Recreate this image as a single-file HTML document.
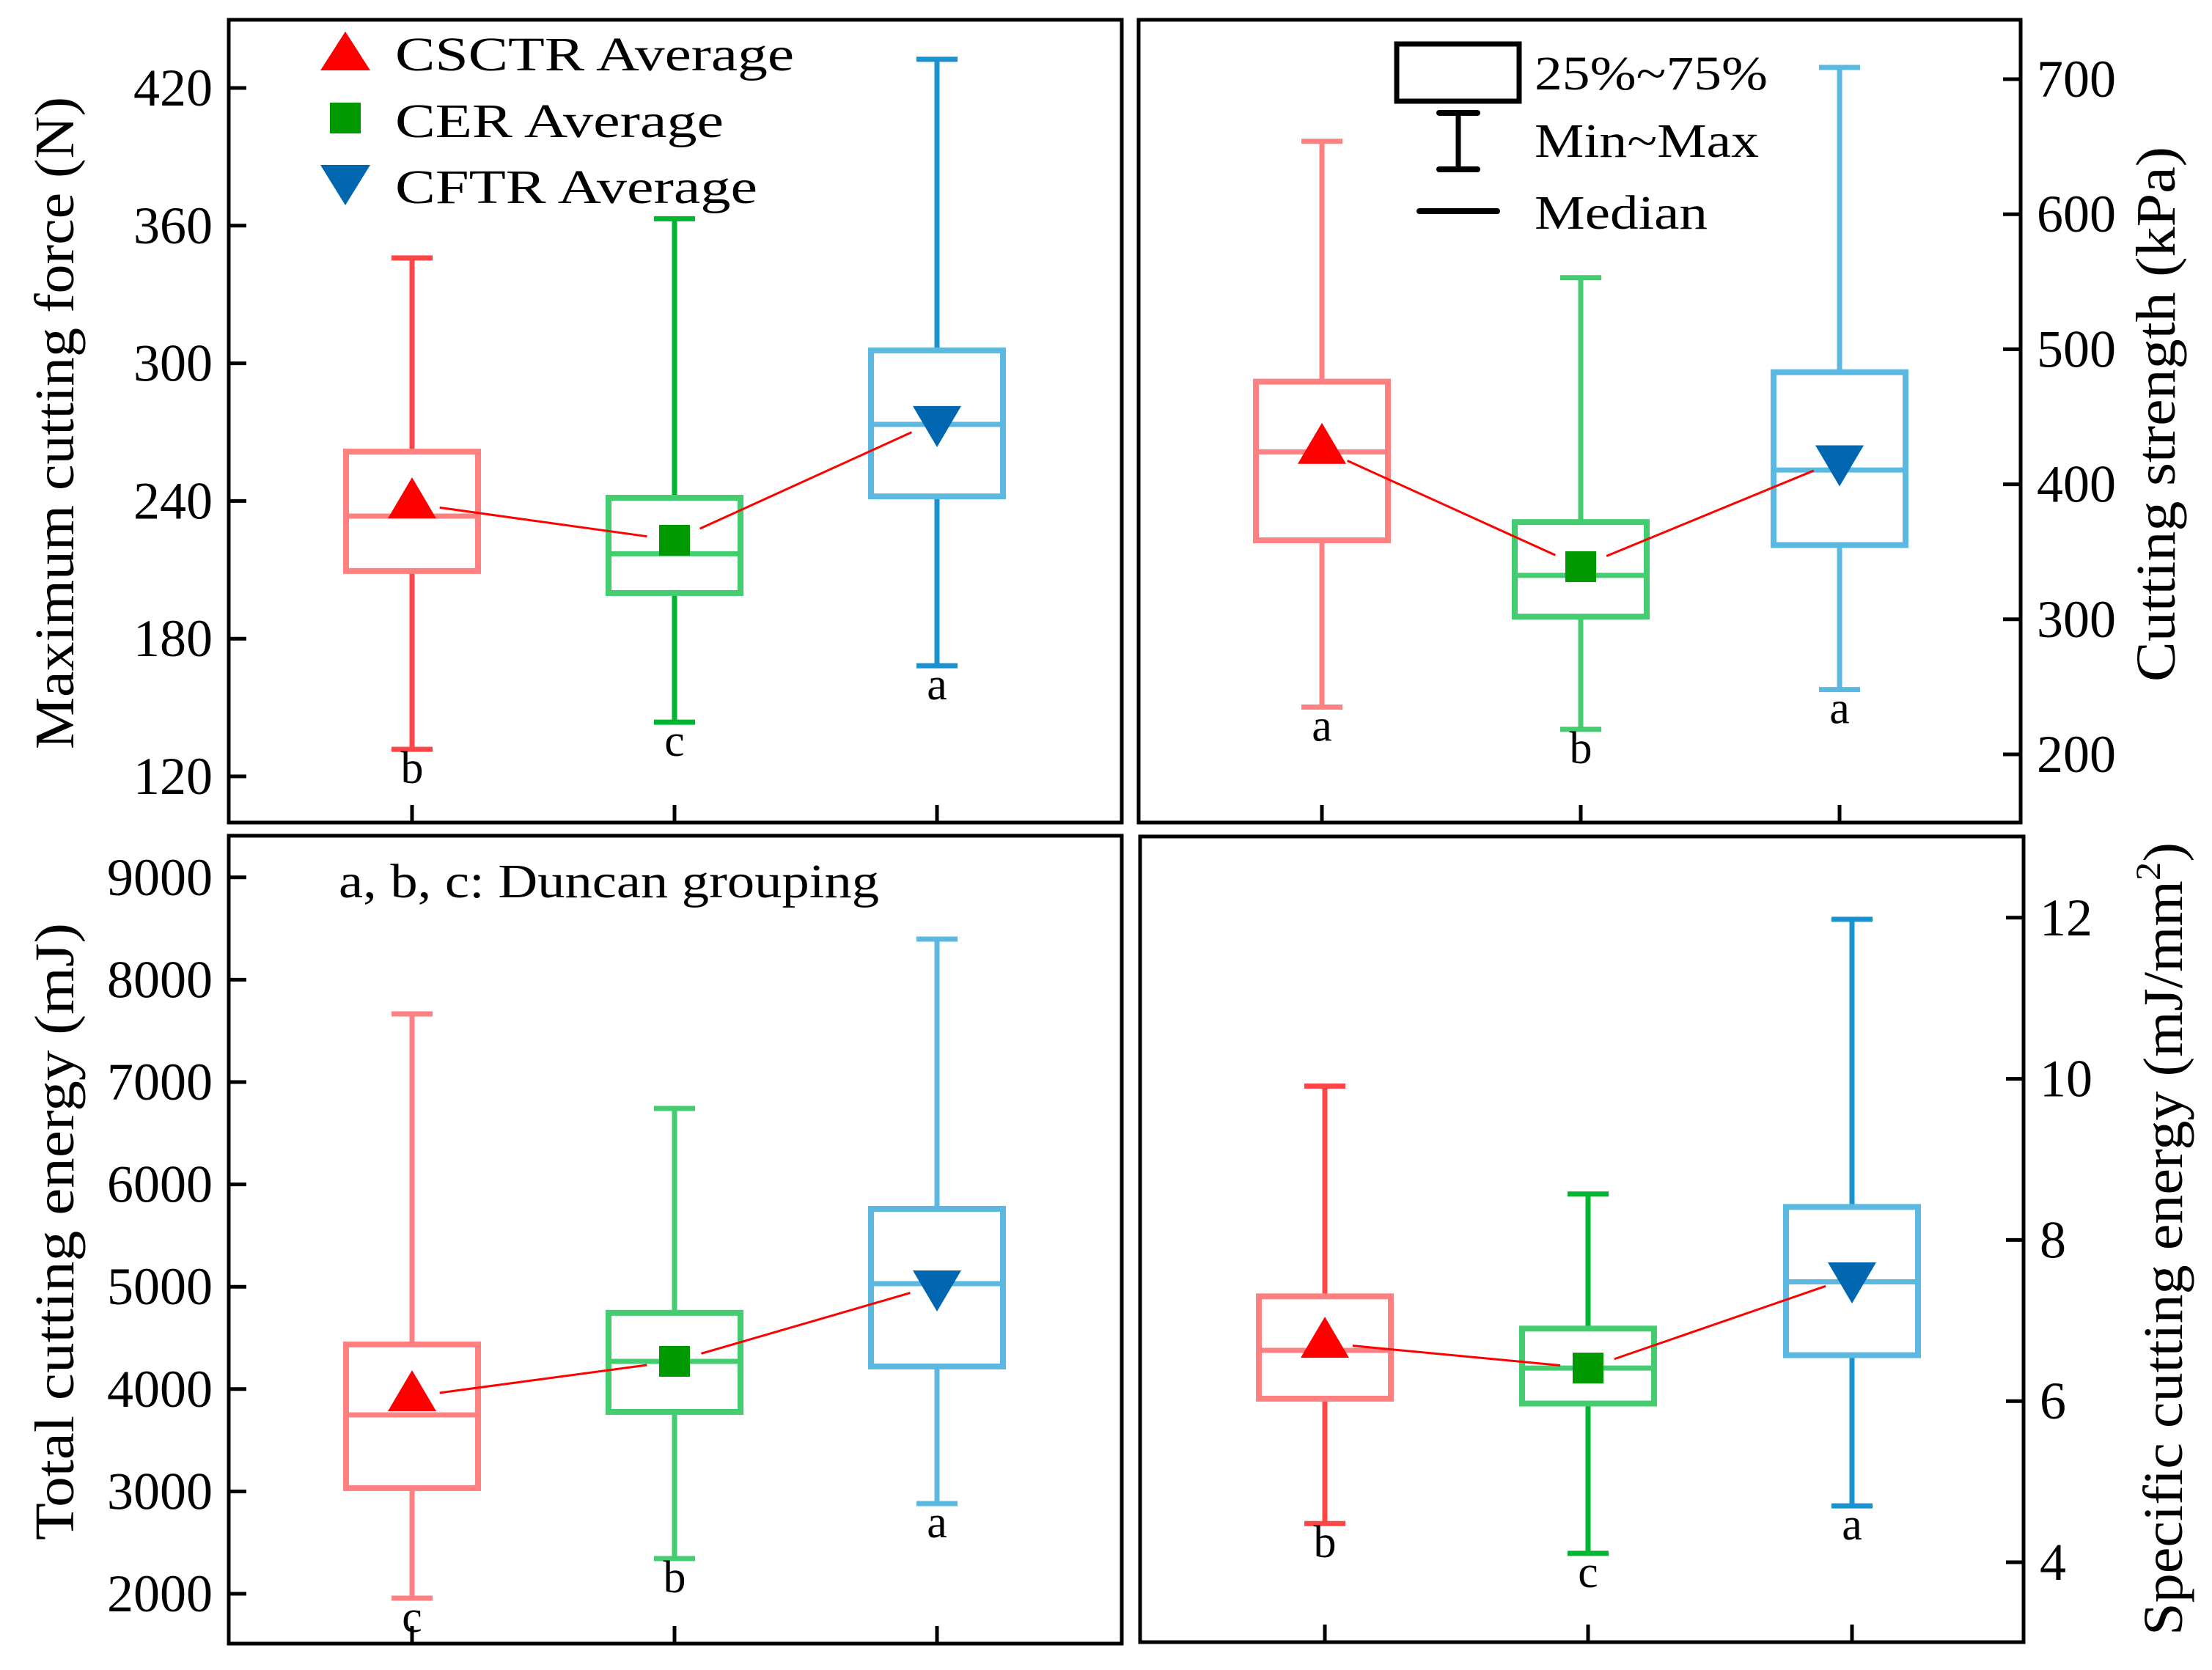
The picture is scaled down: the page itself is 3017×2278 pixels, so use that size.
<!DOCTYPE html>
<html><head><meta charset="utf-8"><style>
html,body{margin:0;padding:0;background:#fff;}
svg{display:block;font-family:"Liberation Serif",serif;}
</style></head><body>
<svg id="chart" width="3017" height="2278" viewBox="0 0 3017 2278" xmlns="http://www.w3.org/2000/svg">
<rect width="3017" height="2278" fill="#fff"/>
<g>
<polygon points="471,43 505,96 437,96" fill="#ff0000"/>
<text x="539" y="96" font-size="66" textLength="544" lengthAdjust="spacingAndGlyphs">CSCTR Average</text>
<rect x="450" y="140" width="42" height="42" fill="#009900"/>
<text x="539" y="187" font-size="66" textLength="448" lengthAdjust="spacingAndGlyphs">CER Average</text>
<polygon points="437,225 505,225 471,280" fill="#0066b0"/>
<text x="539" y="277" font-size="66" textLength="494" lengthAdjust="spacingAndGlyphs">CFTR Average</text>
</g>
<g>
<rect x="1905" y="60" width="167" height="78" fill="none" stroke="#000" stroke-width="7"/>
<text x="2093" y="122" font-size="66" textLength="318" lengthAdjust="spacingAndGlyphs">25%~75%</text>
<line x1="1989" y1="154" x2="1989" y2="231" stroke="#000" stroke-width="7"/>
<line x1="1963" y1="154" x2="2015" y2="154" stroke="#000" stroke-width="8" stroke-linecap="round"/>
<line x1="1963" y1="231" x2="2015" y2="231" stroke="#000" stroke-width="8" stroke-linecap="round"/>
<text x="2093" y="214" font-size="66" textLength="306" lengthAdjust="spacingAndGlyphs">Min~Max</text>
<line x1="1936" y1="288" x2="2042" y2="288" stroke="#000" stroke-width="8" stroke-linecap="round"/>
<text x="2093" y="312" font-size="66" textLength="236" lengthAdjust="spacingAndGlyphs">Median</text>
</g>
<text x="462" y="1224" font-size="66" textLength="737" lengthAdjust="spacingAndGlyphs">a, b, c: Duncan grouping</text>
<text transform="translate(100,577) rotate(-90)" text-anchor="middle" font-size="76" textLength="890" lengthAdjust="spacingAndGlyphs">Maximum cutting force (N)</text>
<text transform="translate(2966,565) rotate(-90)" text-anchor="middle" font-size="76" textLength="730" lengthAdjust="spacingAndGlyphs">Cutting strength (kPa)</text>
<text transform="translate(100,1680) rotate(-90)" text-anchor="middle" font-size="76" textLength="842" lengthAdjust="spacingAndGlyphs">Total cutting energy (mJ)</text>
<text transform="translate(2976,1690) rotate(-90)" text-anchor="middle" font-size="76" textLength="1082" lengthAdjust="spacingAndGlyphs">Specific cutting energy (mJ/mm<tspan dy="-30" font-size="48">2</tspan><tspan dy="30">)</tspan></text>
</svg>
<script>
const categories = ["CSCTR", "CER", "CFTR"];
const forceBoxes = [[131.8, 209.5, 233.4, 261.5, 345.9],[143.6, 199.9, 217, 241.4, 363],[168.2, 242, 273.4, 305.6, 432.5]];
const forceMeans = [238.8, 222.9, 275];
const forceLetters = ["b", "c", "a"];
const forceTicks = [120, 180, 240, 300, 360, 420];
const strengthBoxes = [[235, 358.5, 424, 476, 654],[218.5, 302, 332.5, 372, 553],[248, 355, 410.6, 483, 708.7]];
const strengthMeans = [426, 339, 418];
const strengthLetters = ["a", "b", "a"];
const strengthTicks = [200, 300, 400, 500, 600, 700];
const totalBoxes = [[1957, 3032, 3748, 4436, 7666],[2344, 3777, 4271, 4745, 6742],[2881, 4221, 5030, 5761, 8397]];
const totalMeans = [3927, 4271, 5016];
const totalLetters = ["c", "b", "a"];
const totalTicks = [2000, 3000, 4000, 5000, 6000, 7000, 8000, 9000];
const specificBoxes = [[4.48, 6.03, 6.63, 7.30, 9.91],[4.11, 5.97, 6.41, 6.90, 8.57],[4.70, 6.57, 7.48, 8.41, 11.98]];
const specificMeans = [6.72, 6.41, 7.54];
const specificLetters = ["b", "c", "a"];
const specificTicks = [4, 6, 8, 10, 12];

const NS = "http://www.w3.org/2000/svg";
const svg = document.getElementById("chart");
function mk(tag, attrs, parent) {
  const e = document.createElementNS(NS, tag);
  for (const k in attrs) e.setAttribute(k, attrs[k]);
  (parent || svg).appendChild(e);
  return e;
}
const boxCols = ["#ff8080", "#44cc70", "#5bb8e0"];
const whiskSat = ["#ff4545", "#00b530", "#1a92cf"];
const meanCols = ["#ff0000", "#009900", "#0066b0"];

function panel(cfg) {
  const g = mk("g", {});
  
  
  const y = v => cfg.y0 - (v - cfg.v0) * cfg.k;
  const x = i => cfg.xs[i];
  const fr = mk("rect", {x: cfg.L, y: cfg.T, width: cfg.R - cfg.L, height: cfg.B - cfg.T, fill: "none", stroke: "#000", "stroke-width": 5}, g);
  
  
  categories.forEach((c, i) => {
    const t = mk("line", {x1: x(i), x2: x(i), y1: cfg.B, y2: cfg.B - 24, stroke: "#000", "stroke-width": 5}, g);
    
    
  });
  cfg.ticks.forEach(v => {
    const yy = y(v);
    const ax = cfg.side === "left" ? cfg.L : cfg.R;
    const dir = cfg.side === "left" ? 1 : -1;
    const t = mk("line", {x1: ax, x2: ax + dir * 24, y1: yy, y2: yy, stroke: "#000", "stroke-width": 5}, g);
    
    
    const lb = mk("text", {x: cfg.side === "left" ? cfg.L - 22 : cfg.R + 22, y: yy + 24, "font-size": 72, "text-anchor": cfg.side === "left" ? "end" : "start"}, g);
    
    
    lb.textContent = v;
  });
  const hw = 90, cap = 28;
  cfg.boxes.forEach((b, i) => {
    const cx = x(i);
    const wc = cfg.satWhisk ? whiskSat[i] : boxCols[i];
    const wg = mk("g", {stroke: wc, "stroke-width": 7}, g);
    
    
    mk("line", {x1: cx, x2: cx, y1: y(b[4]), y2: y(b[3])}, wg);
    mk("line", {x1: cx, x2: cx, y1: y(b[1]), y2: y(b[0])}, wg);
    mk("line", {x1: cx - cap, x2: cx + cap, y1: y(b[4]), y2: y(b[4])}, wg);
    mk("line", {x1: cx - cap, x2: cx + cap, y1: y(b[0]), y2: y(b[0])}, wg);
    const bx = mk("rect", {x: cx - hw, y: y(b[3]), width: 2 * hw, height: y(b[1]) - y(b[3]), fill: "none", stroke: boxCols[i], "stroke-width": 8}, g);
    
    
    const md = mk("line", {x1: cx - hw, x2: cx + hw, y1: y(b[2]), y2: y(b[2]), stroke: boxCols[i], "stroke-width": 7}, g);
    
    
    const lt = mk("text", {x: cx, y: y(b[0]) + 46, "font-size": 62, "text-anchor": "middle"}, g);
    
    
    lt.textContent = cfg.letters[i];
  });
  for (let i = 0; i < 2; i++) {
    const x1 = x(i), y1 = y(cfg.means[i]), x2 = x(i + 1), y2 = y(cfg.means[i + 1]);
    const d = Math.hypot(x2 - x1, y2 - y1), ux = (x2 - x1) / d, uy = (y2 - y1) / d;
    const ln = mk("line", {x1: x1 + ux * 38, y1: y1 + uy * 38, x2: x2 - ux * 38, y2: y2 - uy * 38, stroke: "#ff0000", "stroke-width": 3}, g);
    
    
  }
  cfg.means.forEach((m, i) => {
    const cx = x(i), cy = y(m);
    let e;
    if (i === 0) e = mk("polygon", {points: `${cx},${cy - 36} ${cx + 33},${cy + 20} ${cx - 33},${cy + 20}`, fill: meanCols[0]}, g);
    else if (i === 1) e = mk("rect", {x: cx - 21, y: cy - 21, width: 42, height: 42, fill: meanCols[1]}, g);
    else e = mk("polygon", {points: `${cx - 33},${cy - 20} ${cx + 33},${cy - 20} ${cx},${cy + 36}`, fill: meanCols[2]}, g);
    
    
  });
}
panel({name: "panel-max-cutting-force", L: 312, R: 1530, T: 27, B: 1122, xs: [562, 920, 1278], side: "left", v0: 120, y0: 1059, k: 187.8 / 60, ticks: forceTicks, boxes: forceBoxes, means: forceMeans, letters: forceLetters, satWhisk: true});
panel({name: "panel-cutting-strength", L: 1553, R: 2756, T: 27, B: 1122, xs: [1803, 2156, 2509], side: "right", v0: 200, y0: 1029, k: 1.842, ticks: strengthTicks, boxes: strengthBoxes, means: strengthMeans, letters: strengthLetters, satWhisk: false});
panel({name: "panel-total-cutting-energy", L: 312, R: 1530, T: 1140, B: 2242, xs: [562, 920, 1278], side: "left", v0: 2000, y0: 2174, k: 0.1396, ticks: totalTicks, boxes: totalBoxes, means: totalMeans, letters: totalLetters, satWhisk: false});
panel({name: "panel-specific-cutting-energy", L: 1555, R: 2760, T: 1141, B: 2240, xs: [1807, 2166, 2526], side: "right", v0: 4, y0: 2131, k: 109.9, ticks: specificTicks, boxes: specificBoxes, means: specificMeans, letters: specificLetters, satWhisk: true});
</script>
</body></html>
